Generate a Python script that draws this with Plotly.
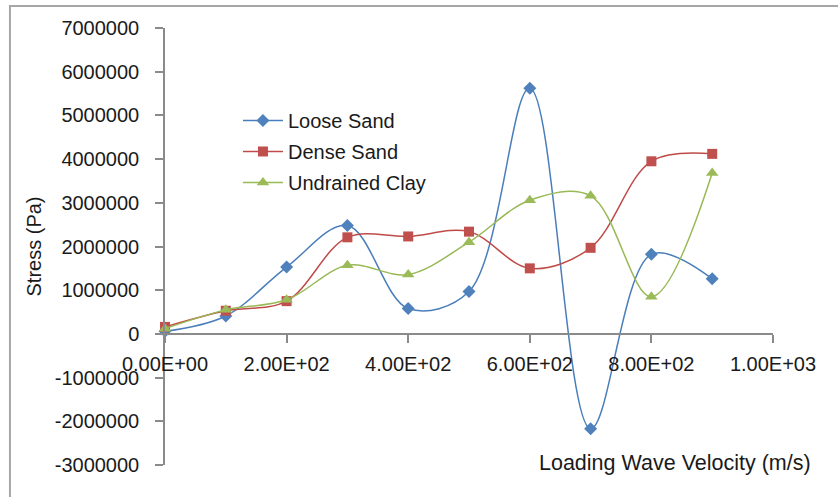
import plotly.graph_objects as go

# Loading wave velocity (m/s)
velocity = [0, 100, 200, 300, 400, 500, 600, 700, 800, 900]

# Stress (Pa) for each soil type
loose_sand = [60000, 410000, 1530000, 2480000, 580000, 970000, 5620000, -2170000, 1820000, 1260000]
dense_sand = [160000, 530000, 750000, 2210000, 2230000, 2340000, 1500000, 1970000, 3950000, 4120000]
undrained_clay = [120000, 550000, 780000, 1570000, 1360000, 2100000, 3060000, 3160000, 850000, 3680000]

# Axis ticks
x_tick_vals = [0, 200, 400, 600, 800, 1000]
x_tick_text = ["0.00E+00", "2.00E+02", "4.00E+02", "6.00E+02", "8.00E+02", "1.00E+03"]
y_tick_vals = [-3000000, -2000000, -1000000, 0, 1000000, 2000000, 3000000,
               4000000, 5000000, 6000000, 7000000]
y_tick_text = ["-3000000", "-2000000", "-1000000", "0", "1000000", "2000000",
               "3000000", "4000000", "5000000", "6000000", "7000000"]

FONT = "Liberation Sans, Arial, sans-serif"
TEXT_COLOR = "#1a1a1a"
AXIS_COLOR = "#8a8a8a"

series = [
    ("Loose Sand", loose_sand, "#4a7ebb", "#4f81bd", "diamond", 10),
    ("Dense Sand", dense_sand, "#be4b48", "#c0504d", "square", 10),
    ("Undrained Clay", undrained_clay, "#98b954", "#9bbb59", "triangle-up", 11),
]

fig = go.Figure()
for name, vals, line_color, marker_color, symbol, size in series:
    fig.add_trace(go.Scatter(
        x=velocity, y=vals, name=name, legendgroup=name,
        mode="lines+markers",
        line=dict(color=line_color, width=1.5, shape="spline", smoothing=1),
        marker=dict(color=marker_color, symbol=symbol, size=size,
                    line=dict(width=0)),
        cliponaxis=False,
    ))

fig.update_layout(
    width=838, height=497,
    margin=dict(l=165, r=65, t=28, b=32),
    paper_bgcolor="white", plot_bgcolor="white",
    font=dict(family=FONT, size=20, color=TEXT_COLOR),
    showlegend=True,
    legend=dict(
        x=0.12, y=0.833, xanchor="left", yanchor="top",
        bgcolor="rgba(0,0,0,0)", borderwidth=0,
        font=dict(family=FONT, size=20, color=TEXT_COLOR),
        tracegroupgap=2, itemwidth=40,
    ),
    xaxis=dict(
        range=[0, 1000], anchor="free", position=0.3,
        showgrid=False, zeroline=False,
        showline=True, linecolor=AXIS_COLOR, linewidth=1.5,
        ticks="outside", ticklen=8, tickcolor=AXIS_COLOR, tickwidth=1.5,
        tickvals=x_tick_vals, ticktext=x_tick_text,
        tickfont=dict(family=FONT, size=20, color=TEXT_COLOR),
        ticklabelstandoff=4,
    ),
    yaxis=dict(
        range=[-3000000, 7000000],
        showgrid=False, zeroline=False,
        showline=True, linecolor=AXIS_COLOR, linewidth=1.5,
        ticks="outside", ticklen=8, tickcolor=AXIS_COLOR, tickwidth=1.5,
        tickvals=y_tick_vals, ticktext=y_tick_text,
        tickfont=dict(family=FONT, size=20, color=TEXT_COLOR),
        ticklabelstandoff=12,
        title=dict(text="Stress (Pa)", standoff=8,
                   font=dict(family=FONT, size=20, color=TEXT_COLOR)),
    ),
    shapes=[
        dict(type="rect", xref="paper", yref="paper",
             x0=-0.255, x1=1.12, y0=-0.1, y1=1.0503,
             line=dict(color="#a6a6a6", width=2), fillcolor="rgba(0,0,0,0)",
             layer="below"),
    ],
    annotations=[
        dict(text="Loading Wave Velocity (m/s)", xref="paper", yref="paper",
             x=0.612, y=0.005, xanchor="left", yanchor="middle",
             showarrow=False,
             font=dict(family=FONT, size=21.5, color=TEXT_COLOR)),
    ],
)

fig.write_html("out.html")
